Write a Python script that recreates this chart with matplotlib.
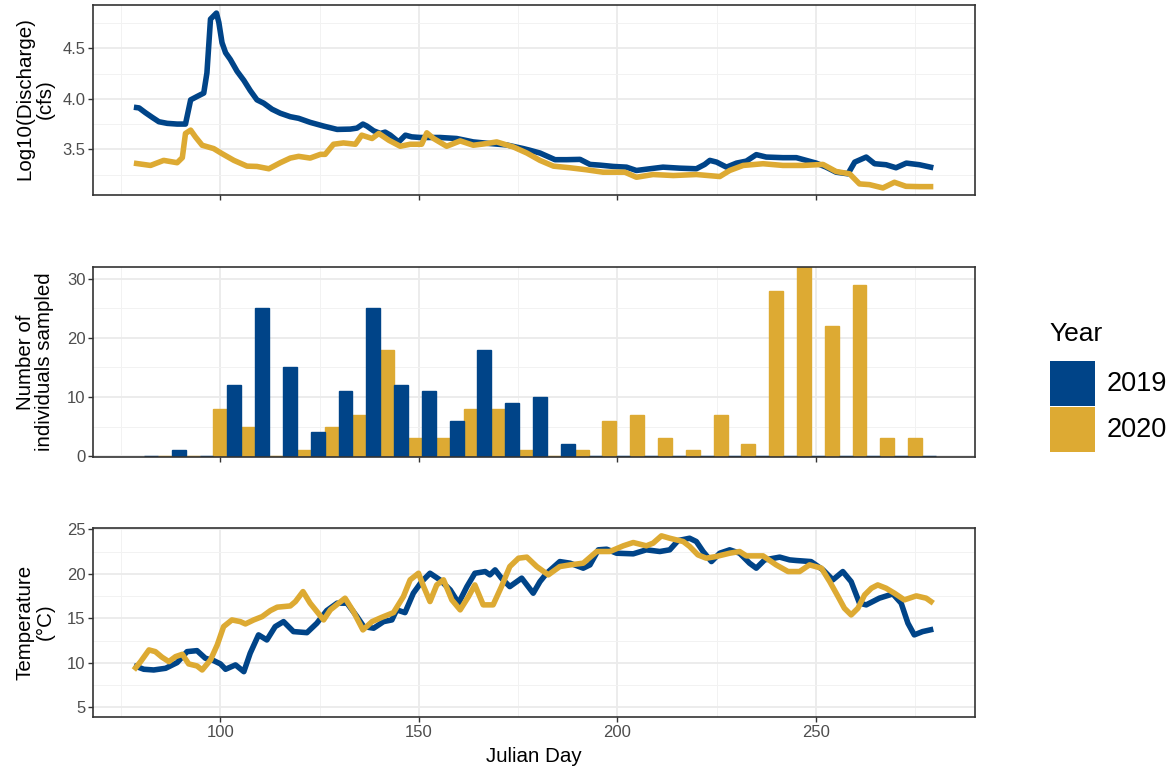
import matplotlib
matplotlib.use("Agg")
import matplotlib.pyplot as plt
import numpy as np
from matplotlib.patches import Rectangle
from matplotlib.ticker import MultipleLocator

plt.rcParams['font.family'] = ['Liberation Sans', 'DejaVu Sans']

BLUE = '#004488'
GOLD = '#DDAA33'

years = ['2019', '2020']

# daily log10 discharge (cfs)
q_day_2019 = [78.2, 79.5, 81.1, 82.8, 84.5, 86.6, 89.1, 91.2, 92.5, 94.1, 95.8, 96.6, 97.5, 99.0,
              99.6, 100.4, 101.3, 102.5, 104.2, 105.9, 107.5, 109.2, 110.9, 113, 115.1, 117.6,
              119.7, 122.6, 126, 129.4, 132.7, 134.4, 135.9, 136.9, 138.6, 140.3, 141.5, 142.8,
              144.9, 146.6, 148.2, 150.3, 152, 155.3, 159.5, 163.7, 167.9, 172.1, 176.3, 178,
              180.5, 184.3, 187.2, 190.6, 193.1, 195.6, 199, 202.3, 204.8, 208.2, 211.5, 215.7,
              219.9, 222, 223.3, 225, 227.5, 230, 232.5, 235, 237.5, 241.7, 245.1, 247.6, 250.1,
              252.6, 255.1, 258.1, 259.8, 262.7, 264.8, 267.7, 270.2, 272.8, 276.1, 279.6]
q_2019 = [3.917, 3.91, 3.863, 3.817, 3.773, 3.757, 3.75, 3.75, 3.99, 4.023, 4.057, 4.257, 4.79,
          4.85, 4.757, 4.557, 4.457, 4.39, 4.273, 4.183, 4.083, 3.99, 3.957, 3.897, 3.857, 3.823,
          3.807, 3.767, 3.73, 3.697, 3.70, 3.71, 3.75, 3.73, 3.683, 3.657, 3.67, 3.64, 3.573,
          3.64, 3.623, 3.617, 3.617, 3.617, 3.607, 3.573, 3.557, 3.543, 3.507, 3.49, 3.463,
          3.397, 3.397, 3.40, 3.35, 3.343, 3.33, 3.323, 3.29, 3.307, 3.323, 3.313, 3.307, 3.35,
          3.39, 3.373, 3.323, 3.363, 3.383, 3.447, 3.423, 3.417, 3.417, 3.39, 3.363, 3.323,
          3.273, 3.257, 3.373, 3.423, 3.357, 3.347, 3.317, 3.363, 3.347, 3.317]

q_day_2020 = [78.2, 82.4, 85.7, 89.1, 90.4, 91.2, 92.5, 93.7, 95.4, 98.3, 100.4, 103.4, 106.7,
              109.2, 112.2, 115.1, 117.6, 119.7, 122.6, 125.2, 126.4, 128.5, 131, 134, 135.6,
              138.2, 139.9, 142.4, 145.3, 147.8, 150.7, 152, 153.7, 157, 160.4, 163.7, 167.1,
              169.6, 173.8, 177.2, 180.5, 183.9, 188, 192.2, 196.4, 201.9, 204.8, 209, 214.1,
              219.9, 225.8, 228.3, 231.7, 236.7, 241.7, 246.8, 251.8, 255.1, 258.5, 261, 263.5,
              266.9, 269.8, 272.7, 276.1, 279.6]
q_2020 = [3.363, 3.34, 3.39, 3.367, 3.417, 3.657, 3.69, 3.623, 3.54, 3.507, 3.457, 3.39, 3.333,
          3.33, 3.307, 3.367, 3.413, 3.43, 3.413, 3.45, 3.45, 3.55, 3.563, 3.55, 3.64, 3.607,
          3.657, 3.59, 3.53, 3.55, 3.55, 3.663, 3.607, 3.53, 3.583, 3.54, 3.557, 3.573, 3.523,
          3.463, 3.39, 3.333, 3.317, 3.297, 3.273, 3.273, 3.223, 3.25, 3.24, 3.25, 3.23, 3.29,
          3.34, 3.357, 3.34, 3.34, 3.35, 3.28, 3.257, 3.157, 3.15, 3.117, 3.173, 3.133, 3.13,
          3.13]

# weekly sampling counts
week = np.arange(29)
n_2019 = [0, 1, 0, 12, 25, 15, 4, 11, 25, 12, 11, 6, 18, 9, 10, 2, 0, 0, 0, 0, 0, 0, 0, 0, 0,
          0, 0, 0, 0]
n_2020 = [0, 0, 8, 5, 0, 1, 5, 7, 18, 3, 3, 8, 8, 1, 0, 1, 6, 7, 3, 1, 7, 2, 28, 32, 22, 29,
          3, 3]

# daily water temperature (deg C)
t_day_2019 = [78.2, 80.7, 83.2, 86.2, 89.1, 91.6, 94.1, 96.2, 98.3, 100, 101.3, 103.8, 105.9,
              107.5, 109.6, 111.7, 113.8, 115.9, 118.4, 121.8, 124.3, 126.8, 129.4, 131.9,
              134.4, 136.1, 138.6, 141.1, 143.2, 144.4, 146.5, 148.6, 150.7, 152.8, 155.3,
              157.9, 160, 162.1, 164.1, 166.7, 167.9, 169.2, 170.8, 172.9, 175.9, 178.8, 180.5,
              182.2, 185.5, 188.1, 191.4, 193.1, 195.2, 197.3, 199.8, 204, 207.3, 210.7, 213.2,
              215.3, 218.2, 219.9, 221.6, 223.7, 225.8, 228.3, 230.8, 233.3, 235, 237.1, 240.9,
              243.4, 245.1, 248.8, 251.8, 254.3, 256.8, 258.9, 261, 262.7, 266, 269.4, 271.5,
              273.2, 274.8, 276.9, 279.6]
t_2019 = [9.7, 9.29, 9.21, 9.40, 10.04, 11.27, 11.38, 10.53, 10.26, 9.89, 9.29, 9.78, 9.02,
          11.09, 13.15, 12.58, 14.08, 14.64, 13.52, 13.40, 14.46, 15.88, 16.71, 16.71, 15.2,
          14.08, 13.9, 14.64, 14.83, 15.96, 15.65, 17.83, 19.13, 20.07, 19.33, 18.2, 16.71,
          18.57, 20.07, 20.26, 19.89, 20.45, 19.52, 18.57, 19.52, 17.83, 19.13, 20.07, 21.38,
          21.2, 20.64, 21.01, 22.7, 22.77, 22.32, 22.25, 22.7, 22.51, 22.7, 23.74, 24.0, 23.63,
          22.51, 21.38, 22.32, 22.7, 22.32, 21.2, 20.64, 21.57, 21.88, 21.57, 21.5, 21.38,
          20.45, 19.33, 20.26, 19.13, 16.71, 16.52, 17.27, 17.75, 16.71, 14.46, 13.15, 13.52,
          13.79]

t_day_2020 = [78.2, 79.9, 82, 83.6, 85.3, 87, 88.7, 90.4, 92, 94.1, 95.4, 97.5, 99.2, 100.8,
              102.9, 105, 106.3, 108.4, 110.5, 112.6, 114.3, 117.6, 118.9, 120.8, 122.6, 126,
              127.7, 129.8, 131.4, 133.5, 135.9, 138.2, 140.7, 143.6, 146.1, 147.8, 149.9, 151.2,
              152.8, 154.5, 156.2, 158.3, 160.4, 162.5, 164.1, 166.2, 168.7, 170.8, 172.9, 175.1,
              177.2, 179.7, 182.6, 185.5, 188.1, 191.4, 194.8, 198.1, 201.5, 204, 207.3, 209,
              211.1, 213.2, 216.6, 218.2, 220.3, 222.4, 224.9, 228.3, 230.8, 232.5, 236.7, 240,
              243, 245.9, 248.4, 251.4, 253.5, 255.6, 257.2, 258.9, 260.6, 262.3, 264, 265.6,
              267.7, 269.8, 272.3, 275.3, 277.8, 279.6]
t_2020 = [9.21, 10.15, 11.46, 11.27, 10.64, 10.15, 10.71, 10.97, 9.89, 9.66, 9.21, 10.34, 12.02,
          14.08, 14.83, 14.64, 14.38, 14.83, 15.2, 15.88, 16.26, 16.4, 16.89, 18.01, 16.71,
          14.83, 15.96, 16.71, 17.27, 15.77, 13.71, 14.64, 15.13, 15.65, 17.45, 19.33, 20.07,
          18.57, 16.89, 18.76, 19.33, 17.08, 15.96, 17.45, 18.76, 16.52, 16.52, 18.57, 20.82,
          21.76, 21.88, 20.82, 19.89, 20.82, 21.01, 21.2, 22.51, 22.51, 23.15, 23.52, 23.15,
          23.45, 24.27, 24.0, 23.63, 23.08, 22.13, 21.76, 21.95, 22.32, 22.51, 22.02, 22.02,
          21.01, 20.26, 20.26, 21.01, 20.64, 19.13, 17.45, 16.14, 15.39, 16.14, 17.64, 18.39,
          18.76, 18.39, 17.83, 17.08, 17.53, 17.27, 16.71]

W, H = 1173, 769
fig = plt.figure(figsize=(W / 100, H / 100), dpi=100)


def panel(top, bottom):
    ax = fig.add_axes([93 / W, 1 - bottom / H, 882 / W, (bottom - top) / H])
    for s in ax.spines.values():
        s.set_color('#333333')
        s.set_linewidth(1.2)
    ax.set_xlim(67.9, 290.1)
    ax.xaxis.set_major_locator(MultipleLocator(50))
    ax.xaxis.set_minor_locator(MultipleLocator(25))
    ax.grid(which='major', color='#EBEBEB', lw=1.3)
    ax.grid(which='minor', color='#F2F2F2', lw=0.7)
    ax.set_axisbelow(True)
    ax.tick_params(which='major', length=3.5, width=1, color='#333333',
                   labelsize=12, labelcolor='#4D4D4D', pad=2)
    ax.tick_params(which='minor', length=0)
    return ax


ax1 = panel(5, 195)
ax2 = panel(267, 457)
ax3 = panel(528, 717)

lw = 4.0
ax1.plot(q_day_2019, q_2019, color=BLUE, lw=lw, solid_joinstyle='round', solid_capstyle='butt')
ax1.plot(q_day_2020, q_2020, color=GOLD, lw=lw, solid_joinstyle='round', solid_capstyle='butt')
ax1.set_ylim(3.047, 4.93)
ax1.set_yticks([3.5, 4.0, 4.5])
ax1.yaxis.set_minor_locator(MultipleLocator(0.25))
ax1.set_yticklabels(['3.5', '4.0', '4.5'])
ax1.tick_params(labelbottom=False)

# dodged weekly bars; zero weeks still leave a thin stroke on the baseline
bar_w = 3.5
mid = 84.25 + 7 * week
ax2.bar(mid[:len(n_2020)] + bar_w / 2, n_2020, width=bar_w, color=GOLD, edgecolor=GOLD, lw=1.0)
ax2.bar(mid - bar_w / 2, n_2019, width=bar_w, color=BLUE, edgecolor=BLUE, lw=1.0)
ax2.set_ylim(-0.15, 32)
ax2.set_yticks([0, 10, 20, 30])
ax2.yaxis.set_minor_locator(MultipleLocator(5))
ax2.tick_params(labelbottom=False)

ax3.plot(t_day_2019, t_2019, color=BLUE, lw=lw, solid_joinstyle='round', solid_capstyle='butt')
ax3.plot(t_day_2020, t_2020, color=GOLD, lw=lw, solid_joinstyle='round', solid_capstyle='butt')
ax3.set_ylim(3.93, 25.15)
ax3.set_yticks([5, 10, 15, 20, 25])
ax3.yaxis.set_minor_locator(MultipleLocator(2.5))

lab = dict(rotation=90, ha='center', va='center', fontsize=14.8, multialignment='center',
           linespacing=1.05)
fig.text(35 / W, 1 - 99 / H, 'Log10(Discharge)\n(cfs)', **lab)
fig.text(35 / W, 1 - 362 / H, 'Number of\nindividuals sampled', **lab)
fig.text(35 / W, 1 - 622 / H, 'Temperature\n(°C)', **lab)
fig.text(534 / W, 1 - 757 / H, 'Julian Day', ha='center', va='center', fontsize=14.8)

# legend
fig.text(1049 / W, 1 - 334 / H, 'Year', ha='left', va='center', fontsize=19)
for i, (c, y) in enumerate(zip([BLUE, GOLD], years)):
    top = 361 + 46 * i
    fig.add_artist(Rectangle((1050 / W, 1 - (top + 45) / H), 45 / W, 45 / H,
                             transform=fig.transFigure, facecolor=c, edgecolor='none'))
    fig.text(1107 / W, 1 - (top + 23) / H, y, ha='left', va='center', fontsize=19.5)

fig.savefig('out.png', dpi=100)
